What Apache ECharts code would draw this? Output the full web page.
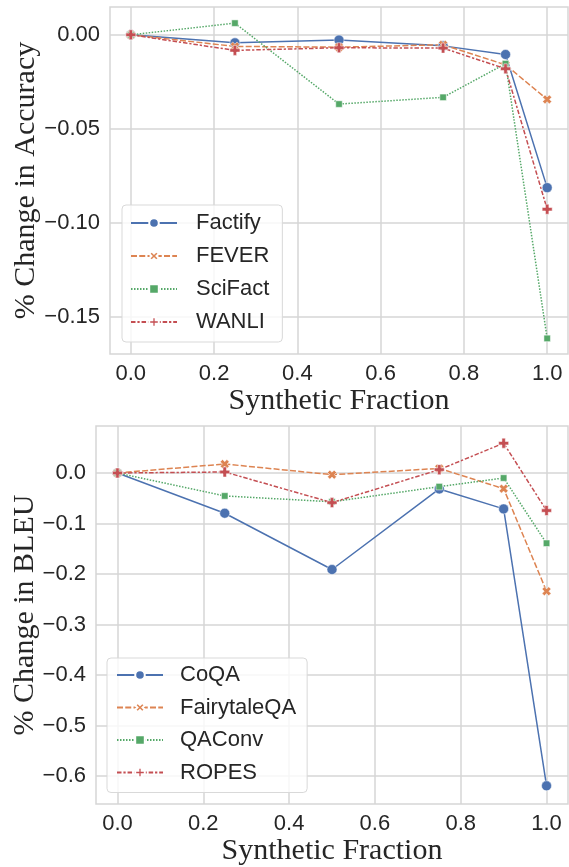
<!DOCTYPE html>
<html>
<head>
<meta charset="utf-8">
<script src="https://cdn.jsdelivr.net/npm/echarts@6/dist/echarts.min.js"></script>
<style>
  html, body { margin: 0; padding: 0; background: #fff; }
  #main { width: 569px; height: 867px; }
</style>
</head>
<body>
<div id="main"></div>
<script>
// synthetic fraction (x values shared by both panels)
var fractions = [0, 0.25, 0.5, 0.75, 0.9, 1.0];
var xTicks = [0.0, 0.2, 0.4, 0.6, 0.8, 1.0];

// top panel: % change in accuracy
var accNames = ['Factify', 'FEVER', 'SciFact', 'WANLI'];
var factify = [0, -0.0043, -0.0028, -0.0059, -0.0105, -0.0814];
var fever   = [0, -0.0062, -0.0066, -0.0053, -0.0160, -0.0344];
var scifact = [0,  0.0062, -0.0369, -0.0333, -0.0154, -0.1617];
var wanli   = [0, -0.0083, -0.0069, -0.0071, -0.0181, -0.0929];
var accTicks = [0.00, -0.05, -0.10, -0.15];

// bottom panel: % change in BLEU
var bleuNames = ['CoQA', 'FairytaleQA', 'QAConv', 'ROPES'];
var coqa      = [0, -0.0796, -0.191, -0.0316, -0.071, -0.619];
var fairytale = [0,  0.0178, -0.0033, 0.009, -0.031, -0.234];
var qaconv    = [0, -0.0454, -0.057, -0.027, -0.0099, -0.139];
var ropes     = [0,  0.002, -0.0586, 0.0066, 0.059, -0.0743];
var bleuTicks = [0.0, -0.1, -0.2, -0.3, -0.4, -0.5, -0.6];

var colors = ['#4C72B0', '#DD8452', '#55A868', '#C44E52'];
var gridColor = '#d6d6d6';
var textColor = '#262626';
var sans = 'Liberation Sans, Arial, sans-serif';
var serif = 'Liberation Serif, Times New Roman, serif';

// filled X and filled plus, like matplotlib 'X' and 'P'
var symX = 'path://M0,2.6 L2.6,0 L5,2.4 L7.4,0 L10,2.6 L7.6,5 L10,7.4 L7.4,10 L5,7.6 L2.6,10 L0,7.4 L2.4,5 Z';
var symPlus = 'path://M3.3,0 H6.7 V3.3 H10 V6.7 H6.7 V10 H3.3 V6.7 H0 V3.3 H3.3 Z';
var symbols = ['circle', symX, 'rect', symPlus];
var symSizes = [10, 9, 6.5, 10];
var dashes = ['solid', [6, 2.25], [1.5, 1.5], [4.5, 1.9, 2.25, 1.9]];

function pairs(ys) {
  return fractions.map(function (x, i) { return [x, ys[i]]; });
}

function isTick(v, list) {
  for (var i = 0; i < list.length; i++) {
    if (Math.abs(v - list[i]) < 1e-7) return true;
  }
  return false;
}

function fmt(v, digits) {
  var s = Math.abs(v).toFixed(digits);
  return (v < -1e-9 ? '\u2212' : '') + s;
}

// split line colour cycle so that only the labelled ticks get a grid line
function cycle(len, idx) {
  var arr = [];
  for (var i = 0; i < len; i++) arr.push(i === idx ? gridColor : 'rgba(0,0,0,0)');
  return arr;
}

function xAxis(gridIndex, gap) {
  return {
    type: 'value', gridIndex: gridIndex,
    min: -0.05, max: 1.05, interval: 0.05,
    name: 'Synthetic Fraction', nameLocation: 'middle', nameGap: gap,
    nameMoveOverlap: false,
    nameTextStyle: { fontFamily: serif, fontSize: 30, color: textColor },
    axisLine: { show: false }, axisTick: { show: false },
    axisLabel: {
      margin: 9, fontFamily: sans, fontSize: 22, color: textColor,
      formatter: function (v) { return isTick(v, xTicks) ? v.toFixed(1) : ''; }
    },
    splitLine: { show: true, lineStyle: { color: cycle(4, 1), width: 1.5 } }
  };
}

function makeSeries(names, arrays, xi, yi) {
  return names.map(function (n, i) {
    return {
      name: n, type: 'line', xAxisIndex: xi, yAxisIndex: yi,
      data: pairs(arrays[i]),
      symbol: symbols[i], symbolSize: symSizes[i],
      lineStyle: { color: colors[i], width: 1.5, type: dashes[i] },
      itemStyle: { color: colors[i], borderColor: '#fff', borderWidth: 0.5 },
      emphasis: { disabled: true }
    };
  });
}

function legend(names, left, top, padding, textPad, gap) {
  return {
    data: names, orient: 'vertical', left: left, top: top,
    itemWidth: 46, itemHeight: 12, itemGap: gap,
    padding: padding,
    backgroundColor: 'rgba(255,255,255,0.8)',
    borderColor: '#d9d9d9', borderWidth: 1, borderRadius: 4,
    textStyle: { fontFamily: sans, fontSize: 22, color: textColor, lineHeight: 22, padding: [0, 0, 0, textPad] }
  };
}

var chart = echarts.init(document.getElementById('main'), null, { renderer: 'canvas' });

chart.setOption({
  animation: false,
  backgroundColor: '#fff',
  grid: [
    { left: 110, right: 1, top: 7, height: 347, show: true, borderColor: gridColor, borderWidth: 1.5, backgroundColor: '#fff', containLabel: false, outerBoundsMode: 'none' },
    { left: 96, right: 1, top: 426, height: 378, show: true, borderColor: gridColor, borderWidth: 1.5, backgroundColor: '#fff', containLabel: false, outerBoundsMode: 'none' }
  ],
  xAxis: [xAxis(0, 32), xAxis(1, 32)],
  yAxis: [
    {
      type: 'value', gridIndex: 0,
      min: -0.17, max: 0.0148, interval: 0.01,
      name: '% Change in Accuracy', nameLocation: 'middle', nameGap: 69, nameRotate: 90,
      nameMoveOverlap: false,
      nameTextStyle: { fontFamily: serif, fontSize: 30, color: textColor },
      axisLine: { show: false }, axisTick: { show: false },
      axisLabel: {
        margin: 10, fontFamily: sans, fontSize: 22, color: textColor,
        formatter: function (v) { return isTick(v, accTicks) ? fmt(v, 2) : ''; }
      },
      splitLine: { show: true, lineStyle: { color: cycle(5, 2), width: 1.5 } }
    },
    {
      type: 'value', gridIndex: 1,
      min: -0.655, max: 0.093, interval: 0.005,
      name: '% Change in BLEU', nameLocation: 'middle', nameGap: 56, nameRotate: 90,
      nameMoveOverlap: false,
      nameTextStyle: { fontFamily: serif, fontSize: 30, color: textColor },
      axisLine: { show: false }, axisTick: { show: false },
      axisLabel: {
        margin: 10, fontFamily: sans, fontSize: 22, color: textColor,
        formatter: function (v) { return isTick(v, bleuTicks) ? fmt(v, 1) : ''; }
      },
      splitLine: { show: true, lineStyle: { color: cycle(20, 11), width: 1.5 } }
    }
  ],
  legend: [
    legend(accNames, 122, 205, [7, 13, 9, 8], 14, 11),
    legend(bleuNames, 107, 658, [6, 11, 9, 9], 12, 10.5)
  ],
  series: makeSeries(accNames, [factify, fever, scifact, wanli], 0, 0)
    .concat(makeSeries(bleuNames, [coqa, fairytale, qaconv, ropes], 1, 1))
});
</script>
</body>
</html>
